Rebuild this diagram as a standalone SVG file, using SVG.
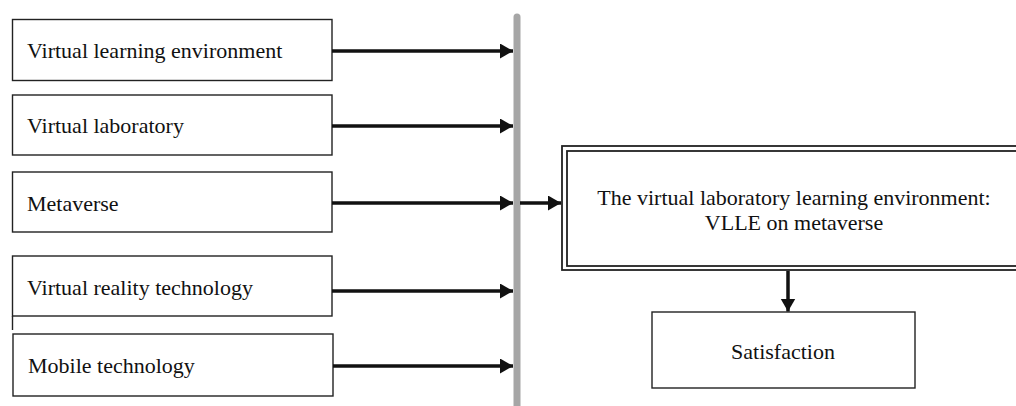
<svg xmlns="http://www.w3.org/2000/svg" width="1016" height="406" viewBox="0 0 1016 406">
<defs>
<style>
.box{fill:#fff;stroke:#222;stroke-width:1.4}
.lbl{font-family:'Liberation Serif','Times New Roman',serif;font-size:22px;fill:#111}
.mid{text-anchor:middle}
.arr{stroke:#111;stroke-width:3.5;fill:none}
</style>
<marker id="ah" markerUnits="userSpaceOnUse" markerWidth="14" markerHeight="16" refX="13" refY="7.5" orient="auto">
<path d="M0,0 L13,7.5 L0,15 Z" fill="#111"/>
</marker>
</defs>
<rect width="1016" height="406" fill="#fff"/>
<line x1="517" y1="17" x2="517" y2="406" stroke="#a6a6a6" stroke-width="7" stroke-linecap="round"/>
<g id="n1"><rect class="box" x="12.5" y="19.5" width="319.5" height="61"/><text class="lbl" x="27" y="58">Virtual learning environment</text></g>
<g id="n2"><rect class="box" x="12.5" y="95" width="319.5" height="60"/><text class="lbl" x="27" y="133">Virtual laboratory</text></g>
<g id="n3"><rect class="box" x="12.5" y="172" width="319.5" height="60"/><text class="lbl" x="27" y="211">Metaverse</text></g>
<g id="n4"><rect class="box" x="12.5" y="256" width="319.5" height="60"/><line x1="12.5" y1="316" x2="12.5" y2="330" stroke="#222" stroke-width="1.4"/><text class="lbl" x="27" y="295">Virtual reality technology</text></g>
<g id="n5"><rect class="box" x="13" y="334" width="320" height="62"/><text class="lbl" x="28" y="373">Mobile technology</text></g>
<g id="vlle"><rect x="562" y="146" width="470" height="124" fill="#fff" stroke="#222" stroke-width="1.8"/><rect x="567" y="151" width="460" height="115" fill="none" stroke="#222" stroke-width="1.8"/><text class="lbl mid" x="794" y="205">The virtual laboratory learning environment:</text><text class="lbl mid" x="794" y="230">VLLE on metaverse</text></g>
<g id="sat"><rect class="box" x="652" y="312" width="263" height="76"/><text class="lbl mid" x="783" y="359">Satisfaction</text></g>
<g id="connectors">
<line class="arr" x1="332" y1="51" x2="513" y2="51" marker-end="url(#ah)"/>
<line class="arr" x1="332" y1="126" x2="513" y2="126" marker-end="url(#ah)"/>
<line class="arr" x1="332" y1="203" x2="513" y2="203" marker-end="url(#ah)"/>
<line class="arr" x1="332" y1="291" x2="513" y2="291" marker-end="url(#ah)"/>
<line class="arr" x1="333" y1="366" x2="513" y2="366" marker-end="url(#ah)"/>
<line class="arr" x1="520" y1="203" x2="561" y2="203" marker-end="url(#ah)"/>
<line class="arr" x1="788" y1="271" x2="788" y2="311.5" marker-end="url(#ah)"/>
</g>
</svg>
